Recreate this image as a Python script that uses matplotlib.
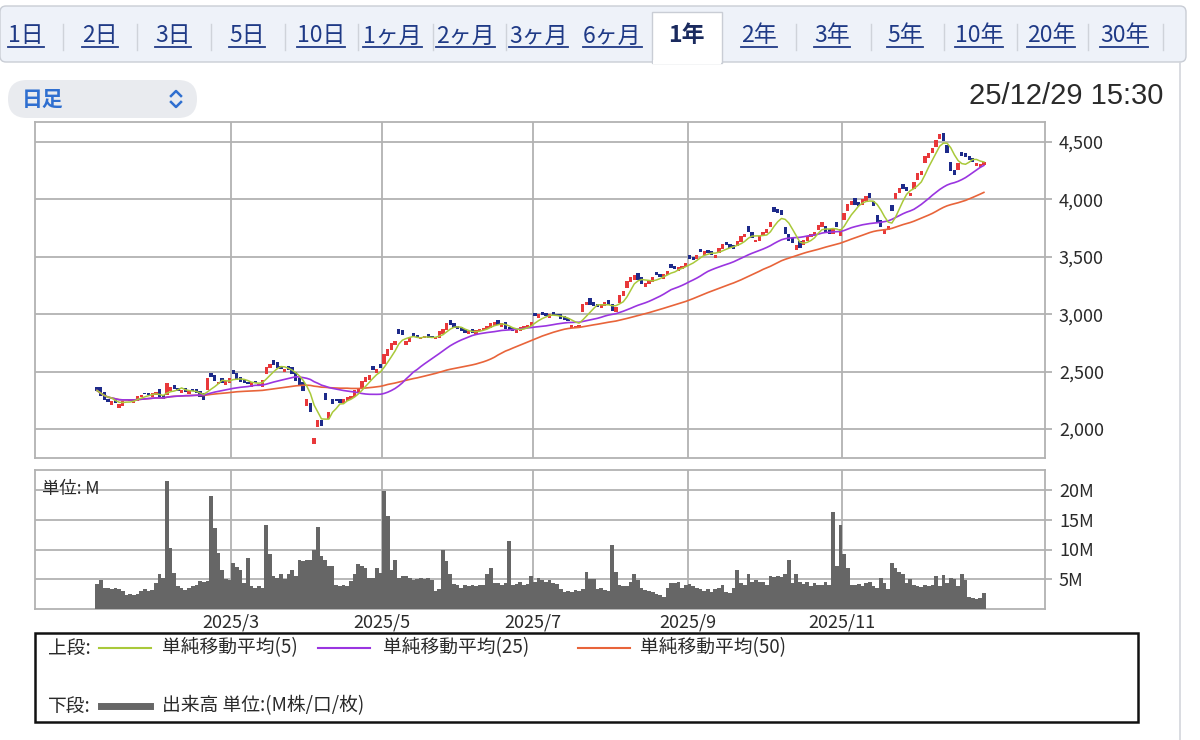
import numpy as np
import pandas as pd
import matplotlib
matplotlib.use("Agg")
import matplotlib.pyplot as plt
from matplotlib.patches import Rectangle, FancyBboxPatch

JP = ["Noto Sans CJK JP", "DejaVu Sans"]
plt.rcParams["font.family"] = JP

# ── data ─────────────────────────────────────────────────────
jp_holidays = ["2025-01-13", "2025-02-11", "2025-02-24", "2025-03-20",
               "2025-04-29", "2025-05-05", "2025-05-06", "2025-07-21",
               "2025-08-11", "2025-09-15", "2025-09-23", "2025-10-13",
               "2025-11-03", "2025-11-24"]

closes = [
    2335, 2290, 2250, 2235, 2240, 2225, 2215, 2240, 2250, 2245,
    2260, 2290, 2300, 2305, 2295, 2310, 2320, 2275, 2260, 2400,
    2370, 2350, 2330, 2340, 2320, 2335, 2330, 2310, 2280, 2255,
    2440, 2450, 2420, 2410, 2400, 2420, 2440, 2480, 2430, 2410,
    2400, 2390, 2410, 2400, 2395, 2430, 2540, 2570, 2560, 2530,
    2520, 2525, 2510, 2480, 2420, 2380, 2330, 2260, 2150, 1920,
    2080, 2030, 2250, 2150, 2220, 2240, 2230, 2260, 2275, 2290,
    2340, 2360, 2420, 2450, 2470, 2510, 2520, 2530, 2650, 2700,
    2750, 2770, 2830, 2820, 2770, 2800, 2810, 2790, 2800, 2810,
    2795, 2790, 2800, 2850, 2870, 2920, 2910, 2880, 2870, 2850,
    2840, 2850, 2840, 2860, 2870, 2880, 2900, 2920, 2930, 2910,
    2920, 2870, 2860, 2850, 2860, 2890, 2900, 2910, 2930, 2980,
    3000, 2990, 2980, 3000, 2990, 2985, 2960, 2950, 2945, 2910,
    2900, 2905, 3090, 3110, 3080, 3070, 3060, 3090, 3110, 3080,
    3030, 3060, 3170, 3200, 3290, 3320, 3340, 3300, 3260, 3270,
    3300, 3320, 3340, 3320, 3350, 3380, 3400, 3390, 3410, 3420,
    3450, 3480, 3470, 3520, 3540, 3550, 3530, 3520, 3520, 3580,
    3610, 3600, 3580, 3570, 3640, 3680, 3700, 3720, 3660, 3650,
    3680, 3720, 3740, 3800, 3890, 3880, 3860, 3700, 3640, 3620,
    3600, 3580, 3650, 3680, 3700, 3720, 3780, 3800, 3710, 3700,
    3740, 3760, 3740, 3880, 3960, 3990, 3950, 3940, 4000, 4030,
    4010, 3940, 3800, 3760, 3740, 3770, 3900, 4060, 4100, 4090,
    4070, 4060, 4150, 4230, 4250, 4380, 4400, 4450, 4520, 4570,
    4510, 4400, 4250, 4210, 4320, 4380, 4370, 4340, 4330, 4320,
    4310, 4330,
]

opens = [
    2365, 2370, 2320, 2265, 2210, 2265, 2185, 2200, 2260, 2255,
    2230, 2240, 2280, 2315, 2315, 2280, 2300, 2345, 2300, 2300,
    2330, 2380, 2360, 2310, 2360, 2305, 2350, 2350, 2330, 2315,
    2340, 2490, 2470, 2390, 2440, 2380, 2400, 2510, 2490, 2450,
    2430, 2410, 2370, 2420, 2375, 2370, 2480, 2530, 2600, 2580,
    2550, 2495, 2550, 2540, 2500, 2440, 2410, 2200, 2230, 1870,
    2020, 2080, 2310, 2090, 2260, 2260, 2260, 2230, 2245, 2260,
    2280, 2320, 2360, 2410, 2430, 2550, 2490, 2570, 2570, 2640,
    2690, 2730, 2870, 2860, 2730, 2760, 2840, 2820, 2780, 2790,
    2825, 2810, 2780, 2790, 2830, 2860, 2950, 2920, 2900, 2890,
    2870, 2830, 2870, 2830, 2850, 2860, 2870, 2880, 2900, 2950,
    2890, 2930, 2890, 2880, 2840, 2850, 2870, 2890, 2900, 3010,
    2970, 3020, 3010, 2970, 3020, 3005, 3000, 2980, 2965, 2880,
    2880, 2885, 3020, 3080, 3140, 3110, 3090, 3050, 3070, 3120,
    3090, 3020, 3100, 3160, 3230, 3280, 3300, 3360, 3320, 3240,
    3260, 3280, 3370, 3350, 3310, 3340, 3440, 3420, 3380, 3390,
    3410, 3520, 3500, 3480, 3570, 3520, 3560, 3550, 3490, 3530,
    3570, 3630, 3610, 3600, 3590, 3630, 3670, 3770, 3720, 3630,
    3640, 3680, 3710, 3760, 3930, 3920, 3910, 3760, 3700, 3660,
    3560, 3640, 3600, 3640, 3670, 3680, 3730, 3760, 3770, 3740,
    3700, 3800, 3680, 3820, 3900, 3950, 4010, 3980, 3950, 3990,
    4060, 3990, 3860, 3820, 3700, 3730, 3950, 4000, 4060, 4130,
    4110, 4030, 4090, 4170, 4210, 4320, 4360, 4400, 4460, 4530,
    4580, 4470, 4330, 4260, 4260, 4410, 4400, 4380, 4360, 4290,
    4280, 4300,
]

volumes = [  # millions
    4.2, 4.9, 3.5, 3.6, 3.4, 3.5, 3.3, 3.0, 2.4, 2.5,
    2.3, 2.6, 3.0, 3.4, 3.0, 3.2, 4.4, 5.8, 5.2, 21.5,
    10.3, 6.0, 3.8, 3.6, 3.2, 3.6, 3.8, 4.0, 4.7, 4.6,
    4.7, 19.0, 13.6, 9.4, 6.6, 5.0, 4.8, 7.8, 7.0, 6.6,
    4.4, 8.6, 3.8, 3.5, 3.9, 3.6, 14.2, 9.2, 5.5, 5.2,
    5.8, 5.0, 5.8, 6.6, 5.5, 8.3, 8.0, 8.3, 8.3, 10.0,
    13.7, 8.9, 8.3, 7.2, 7.2, 4.0, 3.8, 4.0, 3.9, 4.7,
    5.8, 7.5, 7.2, 6.9, 5.2, 5.2, 6.9, 6.0, 19.8, 15.6,
    6.6, 8.3, 5.2, 5.5, 5.5, 5.2, 4.8, 5.0, 5.2, 5.0,
    5.2, 4.9, 3.0, 3.4, 10.0, 8.0, 5.8, 4.2, 4.0, 3.6,
    4.1, 3.8, 4.0, 3.9, 4.0, 4.0, 5.8, 6.9, 4.4, 4.4,
    4.0, 4.4, 11.4, 4.1, 4.2, 4.5, 4.1, 4.2, 5.5, 4.5,
    5.2, 4.8, 4.6, 4.8, 4.4, 4.2, 3.3, 2.8, 3.0, 2.9,
    3.2, 3.0, 3.4, 6.3, 5.0, 5.0, 3.3, 3.5, 3.2, 3.0,
    10.7, 6.3, 4.0, 3.8, 3.9, 4.5, 5.8, 4.8, 3.5, 3.2,
    3.0, 2.8, 2.6, 2.4, 2.0, 3.6, 4.4, 4.3, 4.5, 3.5,
    4.1, 4.2, 3.9, 3.6, 3.3, 3.1, 3.4, 2.8, 3.3, 3.6,
    4.0, 2.8, 2.7, 3.5, 6.6, 4.4, 4.0, 5.9, 4.6, 4.9,
    4.6, 4.5, 4.0, 5.5, 5.3, 5.6, 5.4, 5.8, 8.3, 4.4,
    5.8, 4.6, 4.2, 4.5, 3.9, 4.3, 4.0, 4.1, 4.5, 4.0,
    16.3, 7.2, 14.2, 9.2, 6.9, 4.1, 4.0, 4.2, 3.8, 4.3,
    4.5, 3.8, 3.6, 5.2, 4.4, 3.4, 7.8, 6.9, 6.2, 5.8,
    4.4, 5.0, 4.1, 3.8, 3.7, 4.0, 3.8, 4.0, 5.5, 3.9,
    5.7, 4.4, 5.2, 5.0, 3.9, 5.8, 4.8, 2.0, 1.8, 1.6,
    1.9, 2.7,
]

price_ticks = [2000, 2500, 3000, 3500, 4000, 4500]
vol_ticks = [5, 10, 15, 20]
vol_labels = ["5M", "10M", "15M", "20M"]
month_nums = [3, 5, 7, 9, 11]
month_labels = ["2025/3", "2025/5", "2025/7", "2025/9", "2025/11"]

tabs = ["1日", "2日", "3日", "5日", "10日", "1ヶ月", "2ヶ月", "3ヶ月", "6ヶ月",
        "1年", "2年", "3年", "5年", "10年", "20年", "30年"]
selected_tab = "1年"
stamp = "25/12/29 15:30"
legend_items = ["単純移動平均(5)", "単純移動平均(25)", "単純移動平均(50)"]

# ── style ────────────────────────────────────────────────────
W, H = 1200, 740
RED, NAVY = "#e8383a", "#1d2a8a"
C_MA5, C_MA25, C_MA50 = "#a9c93a", "#9a35e0", "#e8643a"
VOL_C = "#666666"
GRID = "#b2b2b2"
TXT = "#2a2a2a"
TAB_C = "#1f3a86"

dates = pd.bdate_range("2025-01-06", "2025-12-29", freq="C", holidays=jp_holidays)
x = np.arange(len(closes))
o = np.array(opens, dtype=float)
c = np.array(closes, dtype=float)
s = pd.Series(c)
month_pos = [int(np.argmax(dates.month == m)) - 0.5 for m in month_nums]

PX = 3.68           # pixels per trading day
X0 = 97             # pixel of first day
xlim = ((35 - X0) / PX, (1045 - X0) / PX)

fig = plt.figure(figsize=(W / 100, H / 100), dpi=100)

# overlay for page chrome, pixel coordinates
ui = fig.add_axes([0, 0, 1, 1])
ui.set_xlim(0, W); ui.set_ylim(0, H); ui.axis("off")
Y = lambda y: H - y

# tab bar
ui.add_patch(FancyBboxPatch((0, Y(62)), 1186, 56,
                            boxstyle="round,pad=0,rounding_size=6",
                            facecolor="#eef2f9", edgecolor="#c9cdd5", lw=1))
ui.plot([1180, 1180], [Y(62), Y(740)], color="#d3d6dc", lw=1.2)
tab_left = [8, 82, 155, 229, 297, 363, 436, 509, 583, 668,
            741, 814, 887, 955, 1027, 1100]
seps = [63, 137, 211, 285, 358, 433, 506, 796, 871, 944, 1017, 1088, 1163]
for sx in seps:
    ui.plot([sx, sx], [Y(24), Y(50)], color="#cfd3da", lw=1)
ui.add_patch(Rectangle((652, Y(63)), 70, 51, facecolor="white",
                       edgecolor="#c9cdd5", lw=1, zorder=2))
ui.add_patch(Rectangle((653, Y(64)), 68, 4, facecolor="white",
                       edgecolor="none", zorder=3))
tab_texts = []
for lbl, tx in zip(tabs, tab_left):
    sel = lbl == selected_tab
    t = ui.text(tx, Y(36), lbl, fontsize=16.5, color=TAB_C if not sel else "#1a2a5e",
                fontweight="bold" if sel else "normal", va="center", ha="left",
                zorder=4)
    if not sel:
        tab_texts.append(t)

# 日足 selector
ui.add_patch(FancyBboxPatch((8, Y(118)), 189, 38,
                            boxstyle="round,pad=0,rounding_size=19",
                            facecolor="#e9ebef", edgecolor="none"))
ui.text(22, Y(99), "日足", fontsize=15, color="#2f6fd0", fontweight="bold",
        va="center", ha="left")
ui.plot([171, 176, 181], [Y(96), Y(91), Y(96)], color="#2f6fd0", lw=1.8)
ui.plot([171, 176, 181], [Y(102), Y(107), Y(102)], color="#2f6fd0", lw=1.8)
ui.text(1163, Y(96), stamp, fontsize=21, color=TXT, ha="right", va="center",
        family=["Liberation Sans", "DejaVu Sans"])

# legend box
ui.add_patch(Rectangle((35, Y(722)), 1103, 89, facecolor="none",
                       edgecolor="#111111", lw=1.8))
ui.text(48, Y(648), "上段:", fontsize=13.5, color=TXT, va="center")
for (lx, tx), col, lbl in zip([(99, 162), (318, 383), (578, 640)],
                              [C_MA5, C_MA25, C_MA50], legend_items):
    ui.plot([lx, lx + 52], [Y(648), Y(648)], color=col, lw=1.5)
    ui.text(tx, Y(648), lbl, fontsize=13.5, color=TXT, va="center")
ui.text(48, Y(706), "下段:", fontsize=13.5, color=TXT, va="center")
ui.plot([101, 150], [Y(706), Y(706)], color=VOL_C, lw=5)
ui.text(162, Y(706), "出来高 単位:(M株/口/枚)", fontsize=13.5, color=TXT, va="center")

# ── price panel ──────────────────────────────────────────────
ax = fig.add_axes([35 / W, 1 - 458 / H, 1010 / W, 336 / H])
up = c >= o
ax.bar(x, np.abs(c - o), bottom=np.minimum(o, c), width=0.9,
       color=np.where(up, RED, NAVY), linewidth=0, zorder=3)
ax.plot(x, s.rolling(50, min_periods=1).mean(), color=C_MA50, lw=1.2, zorder=4)
ax.plot(x, s.rolling(25, min_periods=1).mean(), color=C_MA25, lw=1.2, zorder=4)
ax.plot(x, s.rolling(5, min_periods=1).mean(), color=C_MA5, lw=1.1, zorder=4)
ax.set_xlim(*xlim)
ax.set_ylim(2000 - 29 / 0.1148, 4500 + 20 / 0.1148)
ax.set_yticks(price_ticks)
ax.set_yticklabels([f"{v:,}" for v in price_ticks])
ax.set_xticks(month_pos)
ax.tick_params(axis="x", length=0, labelbottom=False)
ax.yaxis.tick_right()
ax.tick_params(axis="y", length=5, width=1.3, color=GRID, pad=5,
               labelsize=13, labelcolor=TXT)
ax.grid(True, color=GRID, lw=1.3, zorder=0)
ax.set_axisbelow(True)
for sp in ax.spines.values():
    sp.set_color(GRID); sp.set_linewidth(1.3)

# ── volume panel ─────────────────────────────────────────────
av = fig.add_axes([35 / W, 1 - 609 / H, 1010 / W, 139 / H])
av.bar(x, volumes, width=1.0, color=VOL_C, linewidth=0, zorder=3)
av.set_xlim(*xlim)
av.set_ylim(0, 139 / 5.95)
av.set_yticks(vol_ticks)
av.set_yticklabels(vol_labels)
av.set_xticks(month_pos)
av.set_xticklabels(month_labels)
av.yaxis.tick_right()
av.tick_params(axis="y", length=5, width=1.3, color=GRID, pad=5,
               labelsize=13, labelcolor=TXT)
av.tick_params(axis="x", length=0, pad=3, labelsize=13, labelcolor=TXT)
av.grid(True, color=GRID, lw=1.3, zorder=0)
av.set_axisbelow(True)
for sp in av.spines.values():
    sp.set_color(GRID); sp.set_linewidth(1.3)
av.text(0.007, 0.93, "単位: M", transform=av.transAxes, fontsize=12.5,
        color=TXT, va="top", ha="left", zorder=5)

# underline the tab links
fig.canvas.draw()
r = fig.canvas.get_renderer()
inv = ui.transData.inverted()
for t in tab_texts:
    bb = t.get_window_extent(r)
    (x0, _), (x1, _) = inv.transform([[bb.x0, bb.y0], [bb.x1, bb.y0]])
    ui.plot([x0, x1], [Y(47), Y(47)], color=TAB_C, lw=1.3, zorder=4)

fig.savefig("out.png", dpi=100)
